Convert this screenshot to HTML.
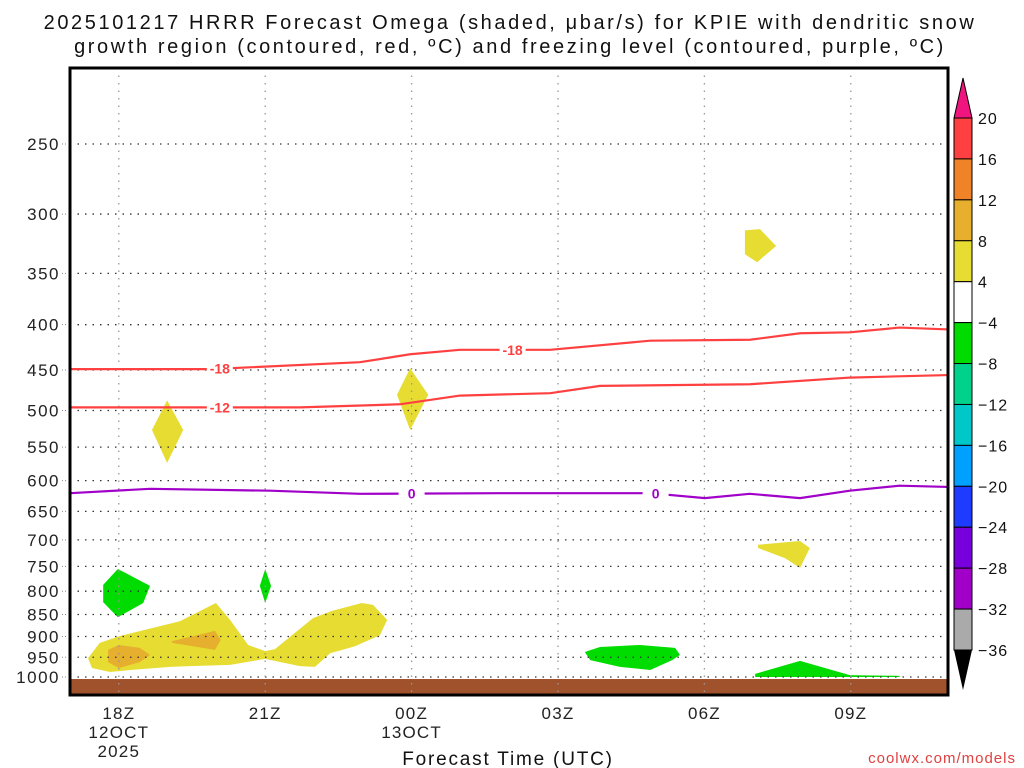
<!DOCTYPE html>
<html><head><meta charset="utf-8"><style>
html,body{margin:0;padding:0;background:#fff;}
svg{display:block;font-family:"Liberation Sans","DejaVu Sans",sans-serif;}
</style></head><body>
<svg id="chart" width="1024" height="768" viewBox="0 0 1024 768" xmlns="http://www.w3.org/2000/svg">
<text x="510" y="29" font-size="20" text-anchor="middle" fill="#111" letter-spacing="2.6">2025101217 HRRR Forecast Omega (shaded, μbar/s) for KPIE with dendritic snow</text>
<text x="510" y="53" font-size="20" text-anchor="middle" fill="#111" letter-spacing="2.6">growth region (contoured, red, ºC) and freezing level (contoured, purple, ºC)</text>
<g id="shapes"></g>
<g id="grid"></g>
<g id="lines"></g>
<rect x="70" y="68" width="878" height="627" fill="none" stroke="#000" stroke-width="3"/>
<g id="axes"></g>
<g id="cbar"></g>
<text x="508" y="765" font-size="19" text-anchor="middle" fill="#111" letter-spacing="1.8">Forecast Time (UTC)</text>
<text x="1016" y="763" font-size="15" text-anchor="end" fill="#e04040" letter-spacing="1">coolwx.com/models</text>
</svg>
<script>
// hours since 17Z 12 Oct
const xTickHours=[1,4,7,10,13,16];
const xTickLabels=[["18Z","12OCT","2025"],["21Z"],["00Z","13OCT"],["03Z"],["06Z"],["09Z"]];
const pLevels=[250,300,350,400,450,500,550,600,650,700,750,800,850,900,950,1000];
const minus18T=[0,2.87,5.94,6.97,7.99,9.84,11.89,13.93,14.96,15.98,17.0,18];
const minus18P=[449,449,441,432,427,427,417,416,409,408,403,405];
const minus12T=[0,4.71,6.76,7.99,9.84,10.86,13.93,15.98,18];
const minus12P=[496,496,492,481,478,469,467,459,456];
const zeroT=[0,1.64,4.1,5.94,8.81,11.89,13.01,13.93,14.96,15.98,17.0,18];
const zeroP=[620,613,616,621,620,620,628,621,628,616,608,610];
const yellowShapes=[
 [[13.83,313],[14.14,312],[14.47,326],[14.08,340],[13.83,333]],
 [[1.99,487],[2.32,526],[1.99,573],[1.68,526]],
 [[6.97,448],[7.34,480],[6.97,526],[6.70,480]],
 [[14.1,709],[14.96,702],[15.16,715],[14.96,753],[14.65,734],[14.1,715]],
 [[0.37,952],[0.61,915],[1.02,899],[2.25,865],[2.99,825],[3.28,862],[3.65,920],[4.0,935],[4.2,930],[4.98,858],[5.37,842],[5.98,825],[6.21,829],[6.50,862],[6.35,897],[5.84,923],[5.33,940],[5.02,974],[4.71,972],[4.0,954],[3.28,969],[2.46,972],[2.05,974],[1.23,982],[0.82,987],[0.45,977]]
];
const orangeShapes=[
 [[0.78,932],[1.0,920],[1.43,927],[1.64,944],[1.43,962],[1.0,977],[0.78,962]],
 [[2.09,911],[2.97,887],[3.09,908],[2.97,932],[2.09,915]]
];
const greenShapes=[
 [[0.98,755],[1.64,789],[1.50,825],[0.98,856],[0.68,823],[0.68,787]],
 [[4.0,755],[4.12,789],[4.0,825],[3.89,789]],
 [[10.55,937],[10.86,925],[11.68,920],[12.40,927],[12.50,944],[12.34,957],[11.89,982],[11.27,974],[10.66,957]],
 [[14.04,992],[14.96,959],[15.98,995],[17.0,997],[17.0,1000],[14.96,1000],[14.04,1000]]
];
const cbarLabels=["20","16","12","8","4","−4","−8","−12","−16","−20","−24","−28","−32","−36"];
const cbarColors=["#ff4040","#f08228","#e6af2d","#e6dc32","#ffffff","#00dc00","#00d28c","#00c8c8","#00a0ff","#1e3cff","#7800dc","#a000c8","#aaaaaa"];

const NS="http://www.w3.org/2000/svg";
const X=t=>70+t*48.8;
const Y=p=>677+384.5*Math.log(p/1000);
function mk(tag,attrs,parent){const e=document.createElementNS(NS,tag);for(const k in attrs)e.setAttribute(k,attrs[k]);parent.appendChild(e);return e;}
const shapesG=document.getElementById('shapes'),gridG=document.getElementById('grid'),linesG=document.getElementById('lines'),axesG=document.getElementById('axes'),cbarG=document.getElementById('cbar');
function poly(arr,fill,name){const e=mk('polygon',{points:arr.map(q=>X(q[0])+','+Y(q[1])).join(' '),fill:fill},shapesG);

}
yellowShapes.forEach(s=>poly(s,'#e6dc32','omega-4-8-region'));
orangeShapes.forEach(s=>poly(s,'#e6af2d','omega-8-12-region'));
greenShapes.forEach(s=>poly(s,'#00dc00','omega-neg4-neg8-region'));
const ground=mk('rect',{x:70,y:679,width:878,height:16,fill:'#a0522d'},shapesG);


pLevels.forEach(p=>{const y=Y(p);
 const g=mk('line',{x1:70,x2:948,y1:y,y2:y,stroke:'#333','stroke-width':1.3,'stroke-dasharray':'1.5 6'},gridG);
 
 
 const tk=mk('line',{x1:62,x2:70,y1:y,y2:y,stroke:'#888','stroke-dasharray':'1 2'},axesG);
 
 
 const t=mk('text',{x:60,y:y+6,'font-size':17,'text-anchor':'end',fill:'#222','letter-spacing':1.5},axesG);t.textContent=p;
 
 });
xTickHours.forEach((h,i)=>{const x=X(h);
 const g=mk('line',{x1:x,x2:x,y1:68,y2:695,stroke:'#999','stroke-width':1.3,'stroke-dasharray':'1.5 6'},gridG);
 
 
 xTickLabels[i].forEach((s,j)=>{const t=mk('text',{x:x,y:719+j*19,'font-size':17,'text-anchor':'middle',fill:'#222','letter-spacing':1.2},axesG);t.textContent=s;
 
 });});
function cline(T,P,color,name){const e=mk('polyline',{points:T.map((t,i)=>X(t)+','+Y(P[i])).join(' '),fill:'none',stroke:color,'stroke-width':2.2},linesG);

}
cline(minus18T,minus18P,'#ff4040','contour-minus18');
cline(minus12T,minus12P,'#ff4040','contour-minus12');
cline(zeroT,zeroP,'#a000c8','freezing-level-0c');
function interp(T,P,t){for(let i=1;i<T.length;i++)if(t<=T[i]){const f=(t-T[i-1])/(T[i]-T[i-1]);return P[i-1]+f*(P[i]-P[i-1]);}return P[P.length-1];}
function clabel(T,P,t,txt,color){const x=X(t),y=Y(interp(T,P,t));
 const r=mk('rect',{x:x-13,y:y-7,width:26,height:14,fill:'#fff'},linesG);
 
 
 const e=mk('text',{x:x,y:y+5,'font-size':14,'font-weight':'bold','text-anchor':'middle',fill:color},linesG);e.textContent=txt;
 
 }
clabel(minus18T,minus18P,3.07,'-18','#ff4040');
clabel(minus18T,minus18P,9.07,'-18','#ff4040');
clabel(minus12T,minus12P,3.07,'-12','#ff4040');
clabel(zeroT,zeroP,7.0,'0','#a000c8');
clabel(zeroT,zeroP,12.0,'0','#a000c8');
// colorbar
const cbX=954,cbW=18,cbTop=118,cbH=(650-118)/13;
const up=mk('polygon',{points:`${cbX},${cbTop} ${cbX+cbW},${cbTop} ${cbX+cbW/2},${cbTop-40}`,fill:'#f0147f',stroke:'#000'},cbarG);


cbarColors.forEach((c,i)=>{const r=mk('rect',{x:cbX,y:cbTop+i*cbH,width:cbW,height:cbH,fill:c,stroke:'#000','stroke-width':1},cbarG);
 
 });
const dn=mk('polygon',{points:`${cbX},650 ${cbX+cbW},650 ${cbX+cbW/2},690`,fill:'#000'},cbarG);


cbarLabels.forEach((s,i)=>{const t=mk('text',{x:978,y:cbTop+i*cbH+6,'font-size':16,fill:'#111','letter-spacing':1},cbarG);t.textContent=s;
 
 });
</script>
</body></html>
